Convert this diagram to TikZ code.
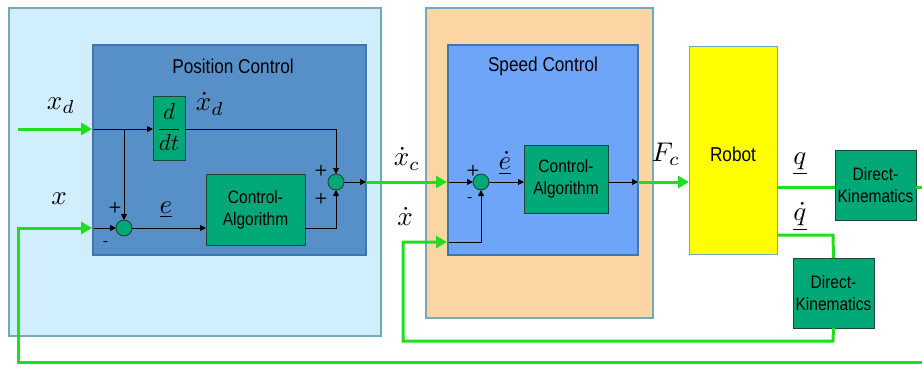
\documentclass[tikz,border=0pt]{standalone}
\usepackage{fontspec}
\usepackage{amsmath}
\usepackage{graphicx}
\usetikzlibrary{arrows.meta,calc}
\newfontfamily\blkfont[FakeStretch=0.86]{Liberation Sans}
\newcommand{\lblmath}[1]{\scalebox{2.7}{\fontsize{10}{12}\selectfont$#1$}}
\definecolor{gline}{RGB}{30,222,30}
\definecolor{gblock}{RGB}{0,168,120}
\definecolor{gborder}{RGB}{30,70,50}
\definecolor{lblue}{RGB}{208,238,252}
\definecolor{lblueb}{RGB}{116,169,185}
\definecolor{dblue}{RGB}{87,144,201}
\definecolor{dblueb}{RGB}{60,120,170}
\definecolor{orng}{RGB}{252,213,165}
\definecolor{sblue}{RGB}{110,165,249}
\definecolor{ylw}{RGB}{255,255,0}
\tikzset{
  area/.style={draw, line width=1.2pt, inner sep=0pt, outer sep=0pt, anchor=north west},
  gbox/.style={area, fill=gblock, draw=gborder, line width=0.9pt, align=center,
    font=\blkfont\fontsize{18}{22}\selectfont},
  sumnode/.style={circle, draw=gborder, fill=gblock, line width=0.9pt, minimum size=16pt, inner sep=0pt, outer sep=0pt},
  titletxt/.style={font=\blkfont\fontsize{20}{24}\selectfont, inner sep=0pt},
  lbl/.style={inner sep=0pt},
  sgn/.style={font=\fontsize{15}{15}\selectfont\sffamily\bfseries, inner sep=0pt},
  bl/.style={line width=1pt, black},
  bla/.style={bl, -{Triangle[length=6pt,width=6pt]}},
  gl/.style={line width=3pt, gline},
  gla/.style={gl, -{Triangle[length=11pt,width=12pt]}},
}
\begin{document}
\begin{tikzpicture}[x=1pt,y=-1pt]
\useasboundingbox (0,0) rectangle (922,365);
% containers
\node[area, fill=lblue, draw=lblueb, minimum width=372pt, minimum height=328pt] (posouter) at (9,8) {};
\node[area, fill=dblue, draw=dblueb, minimum width=273pt, minimum height=210pt] (posinner) at (93,45) {};
\node[titletxt] (postitle) at (233,66) {Position Control};
\node[area, fill=orng, draw=lblueb, minimum width=227pt, minimum height=310pt] (spdouter) at (426,8) {};
\node[area, fill=sblue, draw=dblueb, minimum width=190pt, minimum height=210pt] (spdinner) at (448,45) {};
\node[titletxt] (spdtitle) at (543,66) {Speed Control};
% blocks
\node[gbox, minimum width=32pt, minimum height=64pt] (ddt) at (153,96) {};
\node[inner sep=0pt] (ddttxt) at ([yshift=1pt]ddt.center) {\scalebox{2.3}{\fontsize{10}{12}\selectfont$\displaystyle\frac{d}{dt}$}};
\node[gbox, minimum width=99pt, minimum height=71pt] (ca1) at (206,174) {Control-\\Algorithm};
\node[sumnode] (s1) at (124,228) {};
\node[sumnode] (s2) at (336,182) {};
\node[sumnode] (s3) at (481,182) {};
\node[gbox, minimum width=84pt, minimum height=68pt] (ca2) at (524,145) {Control-\\Algorithm};
\node[area, fill=ylw, draw=lblueb, line width=1pt, minimum width=88pt, minimum height=208pt] (robot) at (689,46) {};
\node[titletxt] (robottxt) at (733,154) {Robot};
\node[gbox, minimum width=81pt, minimum height=70pt] (dk1) at (835,150) {Direct-\\Kinematics};
\node[gbox, minimum width=81pt, minimum height=70pt] (dk2) at (793,258) {Direct-\\Kinematics};
% coordinates
\coordinate (xdstart) at (18,129);
\coordinate (xdin) at (92,129);
\coordinate (xdin2) at (94,129);
\coordinate (br1) at (124,129);
\coordinate (xin) at (92,228);
\coordinate (xin2) at (94,228);
\coordinate (c2top) at (336,129);
\coordinate (c2bot) at (336,228);
\coordinate (posout) at (366,182);
\coordinate (spdin) at (447,182);
\coordinate (spdin2) at (449,182);
\coordinate (xdotin) at (447,242);
\coordinate (xdotin2) at (449,242);
\coordinate (c3bot) at (481,242);
\coordinate (spdout) at (638,182);
\coordinate (qd1) at (833,235);
\coordinate (fb1a) at (833,341);
\coordinate (fb1b) at (403,341);
\coordinate (fb1c) at (403,242);
\coordinate (fb2a) at (922,362);
\coordinate (fb2b) at (18,362);
\coordinate (fb2c) at (18,228);
\coordinate (dkout) at (922,187);
% green connectors
\draw[gla] (xdstart) -- (xdin);
\draw[gla] (fb2a) -- (fb2b) -- (fb2c) -- (xin);
\draw[gla] (posout) -- (spdin);
\draw[gla] (dk2.south) -- (fb1a) -- (fb1b) -- (fb1c) -- (xdotin);
\draw[gla] (spdout) -- (robot.west |- spdout);
\draw[gl] (robot.east |- 0,187) -- (dk1.west |- 0,187);
\draw[gl] (dk1.east |- 0,187) -- (dkout);
\draw[gl] (robot.east |- qd1) -- (qd1) -- (dk2.north);
% black connectors
\draw[bla] (xdin2) -- (ddt.west |- xdin2);
\draw[bla] (br1) -- (s1.north);
\draw[bla] (xin2) -- (s1.west);
\draw[bla] (s1.east) -- (ca1.west |- s1.east);
\draw[bla] (ddt.east |- c2top) -- (c2top) -- (s2.north);
\draw[bla] (ca1.east |- c2bot) -- (c2bot) -- (s2.south);
\draw[bla] (s2.east) -- (posout);
\draw[bla] (spdin2) -- (s3.west);
\draw[bla] (xdotin2) -- (c3bot) -- (s3.south);
\draw[bla] (s3.east) -- (ca2.west |- s3.east);
\draw[bla] (ca2.east |- spdout) -- (spdout);
% signs
\node[sgn] (p1) at (115,208) {+};
\node[sgn] (m1) at (106,244) {-};
\node[sgn] (p2) at (321,171) {+};
\node[sgn] (p3) at (321,199) {+};
\node[sgn] (p4) at (473,171) {+};
\node[sgn] (m3) at (470,200) {-};
% labels
\node[lbl] (lxd) at (61,106) {\lblmath{x_d}};
\node[lbl] (lx) at (59,199) {\lblmath{x}};
\node[lbl] (lxdd) at (210,104) {\lblmath{\dot{x}_d}};
\node[lbl] (le) at (166,210) {\lblmath{\underline{e}}};
\node[lbl] (lxdc) at (407,159) {\lblmath{\dot{x}_c}};
\node[lbl] (lxdot) at (405,216) {\lblmath{\dot{x}}};
\node[lbl] (led) at (505,163) {\lblmath{\underline{\dot{e}}}};
\node[lbl] (lfc) at (666,154) {\lblmath{F_c}};
\node[lbl] (lq) at (800,164) {\lblmath{\underline{q}}};
\node[lbl] (lqd) at (800,217) {\lblmath{\underline{\dot{q}}}};
\end{tikzpicture}
\end{document}
